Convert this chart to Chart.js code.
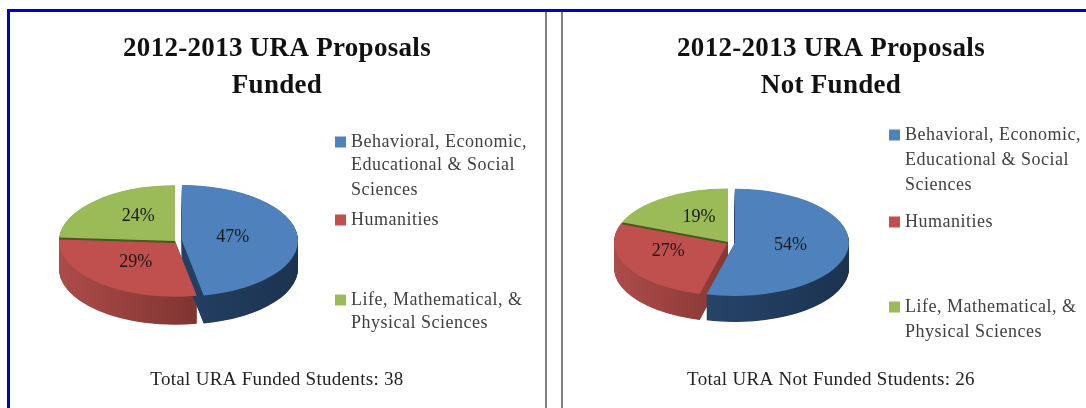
<!DOCTYPE html>
<html>
<head>
<meta charset="utf-8">
<title>2012-2013 URA Proposals</title>
<script src="https://cdn.jsdelivr.net/npm/chart.js@4"></script>
<style>
  html, body { margin: 0; padding: 0; background: #fff; overflow: hidden; }
  #page { position: relative; width: 1086px; height: 408px; }
  .rule { position: absolute; }
  #frameTop { left: 7px; top: 9px; width: 1079px; height: 3px; background: #0000c8; }
  #frameLeft { left: 7px; top: 9px; width: 3px; height: 399px; background: #0000c8; }
  #div1 { left: 545px; top: 12px; width: 2px; height: 396px; background: #808080; }
  #div2 { left: 561px; top: 12px; width: 2px; height: 396px; background: #808080; }
  canvas { position: absolute; top: 0; }
</style>
</head>
<body>
<div id="page">
  <div class="rule" id="frameTop"></div>
  <div class="rule" id="frameLeft"></div>
  <div class="rule" id="div1"></div>
  <div class="rule" id="div2"></div>
  <canvas id="funded" width="554" height="408" style="left:0"></canvas>
  <canvas id="notFunded" width="510" height="408" style="left:576px"></canvas>
</div>
<script>
const categories = ["Behavioral, Economic, Educational & Social Sciences", "Humanities", "Life, Mathematical, & Physical Sciences"];
const fundedValues = [47, 29, 24];
const notFundedValues = [54, 27, 19];
const fundedTitle = ["2012-2013 URA Proposals", "Funded"];
const notFundedTitle = ["2012-2013 URA Proposals", "Not Funded"];
const fundedTotal = "Total URA Funded Students: 38";
const notFundedTotal = "Total URA Not Funded Students: 26";
const legendLines = [
  ["Behavioral, Economic,", "Educational & Social", "Sciences"],
  ["Humanities"],
  ["Life, Mathematical, &", "Physical Sciences"]
];

const topColors = ["#4f81bd", "#c0504d", "#9bbb59"];
const sideColors = [["#2c4d78", "#1c3350"], ["#ad4c49", "#5f2421"], ["#5f7a30", "#46591f"]];

const serif = "'Liberation Serif', serif";

// pie is squashed to an ellipse and given a thick side, chart.js only does flat ones
const pie3d = {
  id: "pie3d",
  afterLayout(chart) {
    const o = chart.options.plugins.pie3d;
    const a = chart.chartArea;
    a.left = o.cx - o.r;
    a.right = o.cx + o.r;
    a.top = o.cy - o.r;
    a.bottom = o.cy + o.r;
    a.width = a.height = o.r * 2;
  },
  beforeDraw(chart) {
    chart.ctx.letterSpacing = "0.3px"; // title and total run wider than Liberation Serif
  },
  beforeDatasetDraw(chart, args) {
    const o = chart.options.plugins.pie3d;
    const ctx = chart.ctx;
    const arcs = args.meta.data;

    const drawArc = (el, i, fill, dy) => {
      const saved = el.options;
      const mid = (el.startAngle + el.endAngle) / 2;
      const pull = o.explode[i];
      el.options = Object.assign({}, saved, { backgroundColor: fill, borderWidth: 0 });
      ctx.save();
      ctx.translate(Math.cos(mid) * pull, o.cy + dy + Math.sin(mid) * pull * o.k);
      ctx.scale(1, o.k);
      ctx.translate(0, -o.cy);
      el.draw(ctx);
      ctx.restore();
      el.options = saved;
    };

    // sides, back to front
    [2, 1, 0].forEach(i => {
      const grad = ctx.createLinearGradient(o.cx - o.r, 0, o.cx + o.r, 0);
      grad.addColorStop(0, sideColors[i][0]);
      grad.addColorStop(1, sideColors[i][1]);
      for (let dy = o.depth; dy > 0; dy -= 0.5) drawArc(arcs[i], i, grad, dy);
    });

    drawArc(arcs[0], 0, topColors[0], 0);
    drawArc(arcs[1], 1, topColors[1], 0);
    drawArc(arcs[2], 2, "#46591f", 2);
    drawArc(arcs[2], 2, topColors[2], 0);

    ctx.save();
    ctx.letterSpacing = "0px";
    ctx.fillStyle = "#1a1a1a";
    ctx.font = "18px " + serif;
    ctx.textAlign = "center";
    ctx.textBaseline = "middle";
    arcs.forEach((el, i) => {
      const p = el.tooltipPosition();
      const label = chart.data.datasets[0].data[i] + "%";
      ctx.fillText(label, p.x + o.labelNudge[i][0], o.cy + (p.y - o.cy) * o.k + o.labelNudge[i][1]);
    });
    ctx.restore();
    return false;
  },
  afterDraw(chart) {
    const o = chart.options.plugins.pie3d;
    const ctx = chart.ctx;
    ctx.save();
    ctx.font = "18px " + serif;
    ctx.letterSpacing = "0.5px";
    ctx.textBaseline = "middle";
    ctx.textAlign = "left";
    let row = 0;
    legendLines.forEach((lines, i) => {
      ctx.fillStyle = topColors[i];
      ctx.fillRect(o.legendX, o.legendY[row] - 5.5, 11, 11);
      ctx.fillStyle = "#404040";
      lines.forEach(line => {
        ctx.fillText(line, o.legendX + 16, o.legendY[row]);
        row++;
      });
    });
    ctx.restore();
  }
};

function drawPie(id, values, title, total, geom) {
  return new Chart(document.getElementById(id), {
    type: "pie",
    data: {
      labels: categories,
      datasets: [{ data: values, backgroundColor: topColors, borderWidth: 0 }]
    },
    options: {
      responsive: false,
      animation: false,
      events: [],
      plugins: {
        legend: { display: false },
        tooltip: { enabled: false },
        title: {
          display: true,
          text: title,
          color: "#111",
          font: { family: serif, size: 27, weight: "bold", lineHeight: 1.37 },
          padding: { top: 31, bottom: 0 }
        },
        subtitle: {
          display: true,
          position: "bottom",
          text: total,
          color: "#222",
          font: { family: serif, size: 19, weight: "normal" },
          padding: { top: 0, bottom: 17 }
        },
        pie3d: geom
      }
    },
    plugins: [pie3d]
  });
}

drawPie("funded", fundedValues, fundedTitle, fundedTotal, {
  cx: 175, cy: 241, r: 116, k: 0.48, depth: 28, explode: [7, 0, 0],
  labelNudge: [[0, -1], [-1, 0], [3, -4]],
  legendX: 335, legendY: [142, 165, 190, 220, 300, 323]
});
drawPie("notFunded", notFundedValues, notFundedTitle, notFundedTotal, {
  cx: 152, cy: 242, r: 114, k: 0.47, depth: 26, explode: [7, 0, 0],
  labelNudge: [[6, 0], [-9, -3], [3, -3]],
  legendX: 313, legendY: [135, 160, 185, 222, 307, 332]
});
</script>
</body>
</html>
